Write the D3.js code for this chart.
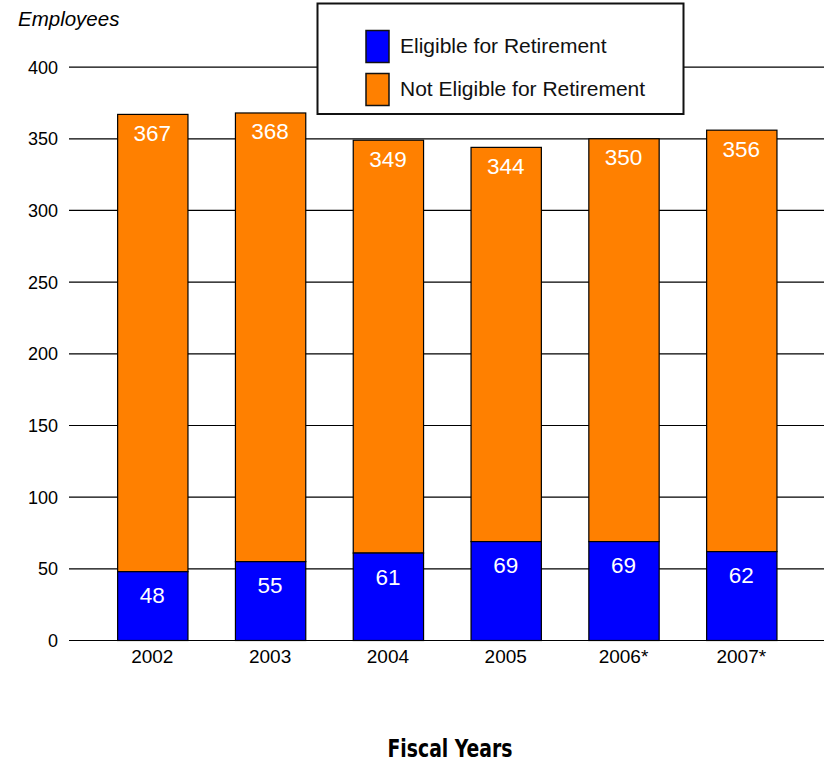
<!DOCTYPE html>
<html>
<head>
<meta charset="utf-8">
<script src="https://cdn.jsdelivr.net/npm/d3@7"></script>
<style>
  html, body { margin: 0; padding: 0; background: #fff; }
  svg { display: block; }
  text { font-family: "Liberation Sans", Arial, Helvetica, sans-serif; }
</style>
</head>
<body>
<svg id="chart" width="824" height="762"></svg>
<script>
// Fiscal years and headcounts
const years = ["2002", "2003", "2004", "2005", "2006*", "2007*"];
const eligible = [48, 55, 61, 69, 69, 62];          // eligible for retirement
const totals = [367, 368, 349, 344, 350, 356];      // total employees (top of each bar)
const yTicks = [0, 50, 100, 150, 200, 250, 300, 350, 400];
const seriesNames = ["Eligible for Retirement", "Not Eligible for Retirement"];
const colors = ["#0000ff", "#ff8000"];

const svg = d3.select("#chart");

const x = d3.scaleBand()
  .domain(years)
  .range([93.4, 800.2])
  .paddingInner(0.403)
  .paddingOuter(0.2015);

const y = d3.scaleLinear().domain([0, 400]).range([640, 66.6]);

// Horizontal grid lines
svg.append("g")
  .selectAll("line")
  .data(yTicks)
  .join("line")
  .attr("x1", 69).attr("x2", 824)
  .attr("y1", d => y(d) + 0.5).attr("y2", d => y(d) + 0.5)
  .attr("stroke", "#000").attr("stroke-width", 1.2);

// Y axis labels
const yAxis = d3.axisLeft(y).tickValues(yTicks).tickSize(0).tickPadding(0);
svg.append("g")
  .attr("transform", "translate(58,0)")
  .call(yAxis)
  .call(g => g.select(".domain").remove())
  .call(g => g.selectAll("text")
    .attr("font-size", 18)
    .attr("font-family", "Liberation Sans, Arial, sans-serif")
    .attr("fill", "#000")
    .attr("dy", "0.36em"));

// Stacked bars: eligible at the bottom, the remainder up to the total above
const rows = years.map((yr, i) => ({ year: yr, eligible: eligible[i], total: totals[i] }));

const bars = svg.append("g");
bars.selectAll("rect.not")
  .data(rows)
  .join("rect")
  .attr("class", "not")
  .attr("x", d => x(d.year) + 0.5)
  .attr("width", x.bandwidth())
  .attr("y", d => y(d.total) + 0.5)
  .attr("height", d => y(d.eligible) - y(d.total))
  .attr("fill", colors[1])
  .attr("stroke", "#000").attr("stroke-width", 1.2);

bars.selectAll("rect.elig")
  .data(rows)
  .join("rect")
  .attr("class", "elig")
  .attr("x", d => x(d.year) + 0.5)
  .attr("width", x.bandwidth())
  .attr("y", d => y(d.eligible) + 0.5)
  .attr("height", d => y(0) - y(d.eligible))
  .attr("fill", colors[0])
  .attr("stroke", "#000").attr("stroke-width", 1.2);

// Value labels
const labels = svg.append("g")
  .attr("fill", "#fff")
  .attr("font-size", 22.5)
  .attr("text-anchor", "middle");

labels.selectAll("text.tot")
  .data(rows)
  .join("text")
  .attr("class", "tot")
  .attr("x", d => x(d.year) + x.bandwidth() / 2)
  .attr("y", d => y(d.total) + 27)
  .text(d => d.total);

labels.selectAll("text.el")
  .data(rows)
  .join("text")
  .attr("class", "el")
  .attr("x", d => x(d.year) + x.bandwidth() / 2)
  .attr("y", d => y(d.eligible) + 32)
  .text(d => d.eligible);

// X axis labels
const xAxis = d3.axisBottom(x).tickSize(0).tickPadding(0);
svg.append("g")
  .attr("transform", "translate(0,663)")
  .call(xAxis)
  .call(g => g.select(".domain").remove())
  .call(g => g.selectAll("text")
    .attr("font-size", 19)
    .attr("font-family", "Liberation Sans, Arial, sans-serif")
    .attr("fill", "#000")
    .attr("dy", 0));

// Axis titles
svg.append("text")
  .attr("x", 18).attr("y", 26)
  .attr("font-size", 20.5)
  .attr("font-style", "italic")
  .text("Employees");

svg.append("text")
  .attr("x", 450).attr("y", 757)
  .attr("text-anchor", "middle")
  .attr("font-size", 24)
  .attr("font-weight", "bold")
  .style("font-family", "'DejaVu Sans Condensed', 'DejaVu Sans', sans-serif")
  .style("font-stretch", "condensed")
  .attr("textLength", 125)
  .attr("lengthAdjust", "spacingAndGlyphs")
  .text("Fiscal Years");

// Legend
const legend = svg.append("g");
legend.append("rect")
  .attr("x", 317.5).attr("y", 3.5)
  .attr("width", 366).attr("height", 110.5)
  .attr("fill", "#fff")
  .attr("stroke", "#111").attr("stroke-width", 2);

const item = legend.selectAll("g.item")
  .data(seriesNames)
  .join("g")
  .attr("class", "item")
  .attr("transform", (d, i) => `translate(366,${30.5 + i * 43})`);

item.append("rect")
  .attr("width", 23).attr("height", 32)
  .attr("fill", (d, i) => colors[i])
  .attr("stroke", "#111").attr("stroke-width", 1.5);

item.append("text")
  .attr("x", 34).attr("y", 22)
  .attr("font-size", 21)
  .attr("fill", "#111")
  .text(d => d);
</script>
</body>
</html>
